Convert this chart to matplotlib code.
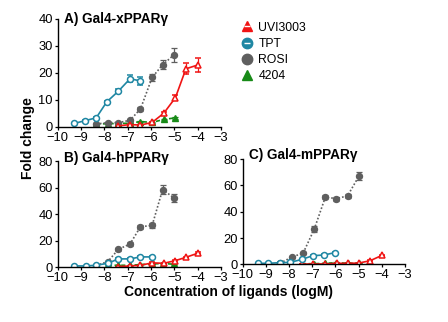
import matplotlib
matplotlib.use('Agg')
import matplotlib.pyplot as plt
from matplotlib.lines import Line2D

plt.rcParams['font.family'] = ['Liberation Sans', 'DejaVu Sans']

# concentration (log M) and fold change for each receptor panel
# panel A: xPPARg
a_tpt_x = [-9.3, -8.85, -8.35, -7.9, -7.4, -6.9, -6.45]
a_tpt_y = [1.2, 2.2, 3.3, 9.2, 13.2, 17.8, 17.0]
a_tpt_e = [0.3, 0.3, 0.4, 0.5, 0.8, 1.3, 1.4]
a_rosi_x = [-8.35, -7.85, -7.4, -6.9, -6.45, -5.95, -5.5, -5.0]
a_rosi_y = [1.0, 1.5, 1.5, 2.4, 6.6, 18.3, 23.0, 26.8]
a_rosi_e = [0.2, 0.3, 0.3, 0.4, 0.6, 1.2, 1.6, 2.6]
a_uvi_x = [-7.4, -6.9, -6.45, -5.95, -5.45, -4.95, -4.5, -4.0]
a_uvi_y = [0.3, 0.8, 0.6, 1.6, 5.0, 10.8, 21.5, 22.9]
a_uvi_e = [0.1, 0.2, 0.2, 0.3, 0.5, 1.0, 2.0, 2.5]
a_4204_x = [-8.35, -7.85, -7.4, -6.9, -6.45, -5.95, -5.45, -4.95]
a_4204_y = [1.0, 1.1, 1.2, 1.3, 1.9, 1.6, 2.7, 3.3]
a_4204_e = [0.1, 0.1, 0.1, 0.1, 0.2, 0.2, 0.3, 0.3]

# panel B: hPPARg
b_tpt_x = [-9.3, -8.8, -8.35, -7.85, -7.4, -6.9, -6.45, -5.95]
b_tpt_y = [1.0, 1.0, 1.5, 3.0, 6.3, 6.3, 7.8, 7.8]
b_tpt_e = [0.2, 0.2, 0.3, 0.4, 0.6, 0.6, 0.7, 0.7]
b_rosi_x = [-8.35, -7.85, -7.4, -6.9, -6.45, -5.95, -5.5, -5.0]
b_rosi_y = [1.3, 4.3, 13.5, 17.5, 30.5, 31.5, 58.5, 52.0]
b_rosi_e = [0.3, 0.6, 1.0, 1.2, 1.5, 1.8, 3.5, 3.0]
b_uvi_x = [-7.4, -6.9, -6.45, -5.95, -5.45, -4.95, -4.5, -4.0]
b_uvi_y = [0.5, 1.0, 1.5, 3.3, 3.0, 5.0, 7.5, 10.5]
b_uvi_e = [0.2, 0.2, 0.3, 0.4, 0.4, 0.5, 0.6, 0.8]
b_4204_x = [-7.85, -7.4, -6.9, -6.45, -5.95, -5.5, -5.0]
b_4204_y = [1.5, 1.5, 1.5, 2.0, 2.5, 2.8, 2.3]
b_4204_e = [0.2, 0.2, 0.2, 0.3, 0.3, 0.3, 0.3]

# panel C: mPPARg
c_tpt_x = [-9.35, -8.9, -8.4, -7.95, -7.45, -6.98, -6.5, -6.03]
c_tpt_y = [0.8, 0.8, 1.3, 1.5, 3.8, 6.6, 7.1, 8.9]
c_tpt_e = [0.2, 0.2, 0.3, 0.3, 0.4, 0.6, 0.6, 0.8]
c_rosi_x = [-8.4, -7.86, -7.4, -6.92, -6.44, -5.96, -5.48, -4.99]
c_rosi_y = [0.8, 5.8, 8.4, 26.6, 51.0, 50.0, 52.0, 67.0]
c_rosi_e = [0.2, 0.6, 0.8, 2.2, 1.5, 1.5, 1.5, 3.2]
c_uvi_x = [-7.45, -6.95, -6.45, -5.95, -5.48, -4.99, -4.5, -4.0]
c_uvi_y = [0.2, 0.3, 0.3, 0.8, 0.8, 1.0, 2.8, 6.8]
c_uvi_e = [0.1, 0.1, 0.1, 0.2, 0.2, 0.2, 0.3, 0.6]
c_4204_x = [-7.45, -6.92, -6.44, -5.96, -5.48, -4.99]
c_4204_y = [0.5, 0.5, 0.8, 1.3, 0.8, 1.0]
c_4204_e = [0.1, 0.1, 0.1, 0.2, 0.1, 0.1]

x_ticks = [-10, -9, -8, -7, -6, -5, -4, -3]
red = '#f01414'
teal = '#1f87a3'
grey = '#5f5f5f'
green = '#178a17'

fig = plt.figure(figsize=(4.48, 3.22), dpi=100)
axA = fig.add_axes([0.129, 0.6065, 0.364, 0.3345])
axB = fig.add_axes([0.129, 0.170, 0.364, 0.330])
axC = fig.add_axes([0.542, 0.179, 0.362, 0.327])


def draw(ax, tpt, rosi, uvi, c4204):
    common = dict(markersize=4.3, capsize=2.5, elinewidth=0.9, capthick=0.9, lw=1.2)
    ax.errorbar(*c4204[:2], yerr=c4204[2], color=green, marker='^', ls=(0, (2.5, 1.5)),
                mfc=green, **common)
    ax.errorbar(*rosi[:2], yerr=rosi[2], color=grey, marker='o', ls=(0, (1, 1.2)),
                mfc=grey, **common)
    ax.errorbar(*uvi[:2], yerr=uvi[2], color=red, marker='^', ls='-',
                mfc='white', mew=1.1, **common)
    ax.errorbar(*tpt[:2], yerr=tpt[2], color=teal, marker='o', ls='-',
                mfc='white', mew=1.1, **common)
    ax.set_xlim(-10, -3)
    ax.set_xticks(x_ticks)
    for s in ['top', 'right']:
        ax.spines[s].set_visible(False)
    for s in ['left', 'bottom']:
        ax.spines[s].set_linewidth(1.0)
    ax.tick_params(labelsize=9.3, length=2.5, width=0.9, pad=1)


draw(axA, (a_tpt_x, a_tpt_y, a_tpt_e), (a_rosi_x, a_rosi_y, a_rosi_e),
     (a_uvi_x, a_uvi_y, a_uvi_e), (a_4204_x, a_4204_y, a_4204_e))
draw(axB, (b_tpt_x, b_tpt_y, b_tpt_e), (b_rosi_x, b_rosi_y, b_rosi_e),
     (b_uvi_x, b_uvi_y, b_uvi_e), (b_4204_x, b_4204_y, b_4204_e))
draw(axC, (c_tpt_x, c_tpt_y, c_tpt_e), (c_rosi_x, c_rosi_y, c_rosi_e),
     (c_uvi_x, c_uvi_y, c_uvi_e), (c_4204_x, c_4204_y, c_4204_e))

axA.set_ylim(0, 40)
axA.set_yticks([0, 10, 20, 30, 40])
for ax in (axB, axC):
    ax.set_ylim(0, 80)
    ax.set_yticks([0, 20, 40, 60, 80])

axA.text(0.04, 1.0, 'A) Gal4-xPPARγ', transform=axA.transAxes, fontsize=9.8,
         fontweight='bold', va='center', ha='left')
axB.text(0.04, 1.03, 'B) Gal4-hPPARγ', transform=axB.transAxes, fontsize=9.8,
         fontweight='bold', va='center', ha='left')
axC.text(0.04, 1.04, 'C) Gal4-mPPARγ', transform=axC.transAxes, fontsize=9.8,
         fontweight='bold', va='center', ha='left')

# legend with solid markers
handles = [
    (Line2D([], [], marker='^', color=red, ls='none', markersize=7.5),
     Line2D([], [], marker='_', color='white', ls='none', markersize=4, mew=1)),
    (Line2D([], [], marker='o', color=teal, ls='none', markersize=7.5),
     Line2D([], [], marker='_', color='white', ls='none', markersize=4, mew=1)),
    Line2D([], [], marker='o', color=grey, ls='none', markersize=7.5),
    Line2D([], [], marker='^', color=green, ls='none', markersize=7.5),
]
fig.legend(handles, ['UVI3003', 'TPT', 'ROSI', '4204'], loc='upper left',
           bbox_to_anchor=(0.525, 0.952), frameon=False, fontsize=8.8,
           handlelength=1.0, handletextpad=0.4, labelspacing=0.35, borderpad=0)

fig.text(0.062, 0.57, 'Fold change', rotation=90, fontsize=10, fontweight='bold',
         ha='center', va='center')
fig.text(0.51, 0.094, 'Concentration of ligands (logM)', fontsize=10, fontweight='bold',
         ha='center', va='center')

fig.savefig('out.png', dpi=100)
